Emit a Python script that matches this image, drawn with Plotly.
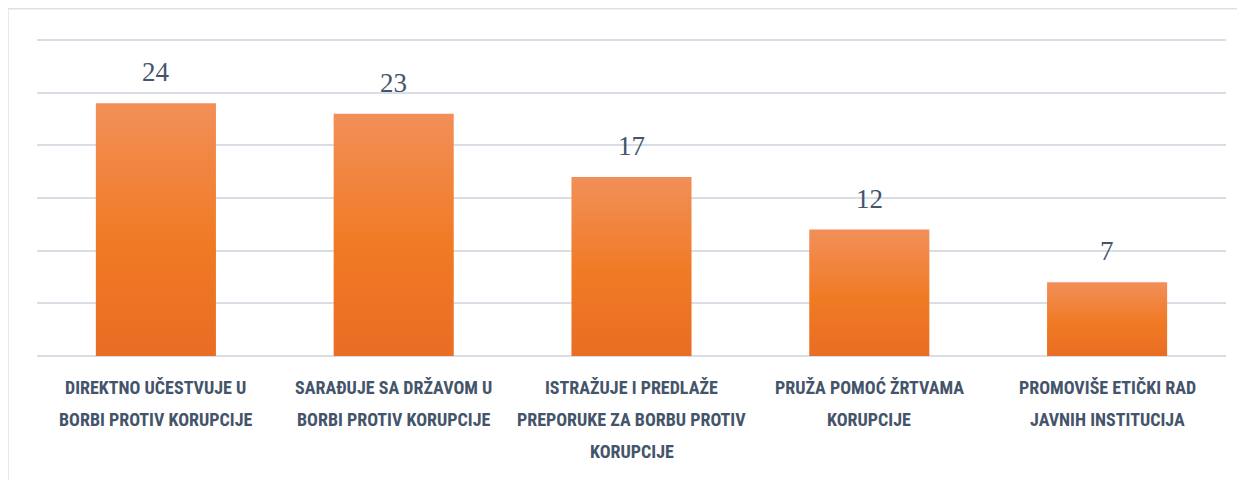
import plotly.graph_objects as go

categories = [
    "DIREKTNO UČESTVUJE U<br>BORBI PROTIV KORUPCIJE",
    "SARAĐUJE SA DRŽAVOM U<br>BORBI PROTIV KORUPCIJE",
    "ISTRAŽUJE I PREDLAŽE<br>PREPORUKE ZA BORBU PROTIV<br>KORUPCIJE",
    "PRUŽA POMOĆ ŽRTVAMA<br>KORUPCIJE",
    "PROMOVIŠE ETIČKI RAD<br>JAVNIH INSTITUCIJA",
]
values = [24, 23, 17, 12, 7]

TEXT = "#44546A"
GRID = "#D9DEE6"
LABEL_FONT = dict(
    family="'Liberation Sans Narrow', 'Roboto Condensed', 'DejaVu Sans Condensed', Roboto, sans-serif",
    size=18, color=TEXT, weight="bold",
)
half = 0.2525

fig = go.Figure()
for i, v in enumerate(values):
    fig.add_trace(go.Scatter(
        x=[i - half, i - half, i + half, i + half, i - half],
        y=[0, v, v, 0, 0],
        mode="lines",
        line=dict(width=0, color="rgba(0,0,0,0)"),
        fill="toself",
        fillgradient=dict(
            type="vertical",
            colorscale=[[0, "#E96D24"], [0.45, "#F07A24"], [1, "#F28F58"]],
        ),
        hoverinfo="skip",
        showlegend=False,
    ))
    fig.add_annotation(
        x=i, y=v, text=str(v), showarrow=False, yanchor="bottom", yshift=14,
        font=dict(family="Liberation Serif, serif", size=27, color=TEXT),
    )

# category labels, one annotation per line for wider line spacing
for i, cat in enumerate(categories):
    for k, line in enumerate(cat.split("<br>")):
        fig.add_annotation(
            x=i, y=0, text=line, showarrow=False, yanchor="middle",
            yshift=-(31 + 32 * k), font=LABEL_FONT,
        )

fig.add_shape(
    type="rect", xref="paper", yref="paper",
    x0=-0.0244, y0=-0.6, x1=1.1, y1=1.0918,
    line=dict(color="#DCE1E9", width=1.5), layer="below",
)

fig.update_layout(
    width=1245, height=480,
    margin=dict(l=29, r=27, t=30, b=132, autoexpand=False),
    paper_bgcolor="white", plot_bgcolor="white",
    showlegend=False,
    xaxis=dict(
        range=[-0.5, 4.5], showticklabels=False,
        showgrid=False, zeroline=False, showline=False, ticks="",
        automargin=False,
    ),
    yaxis=dict(
        range=[0, 30.19], tickvals=[5, 10, 15, 20, 25, 30], showticklabels=False, showgrid=True,
        gridcolor=GRID, gridwidth=1.5, zeroline=True, zerolinecolor=GRID,
        zerolinewidth=1.5, showline=False, automargin=False,
    ),
)

fig.write_html("out.html")
